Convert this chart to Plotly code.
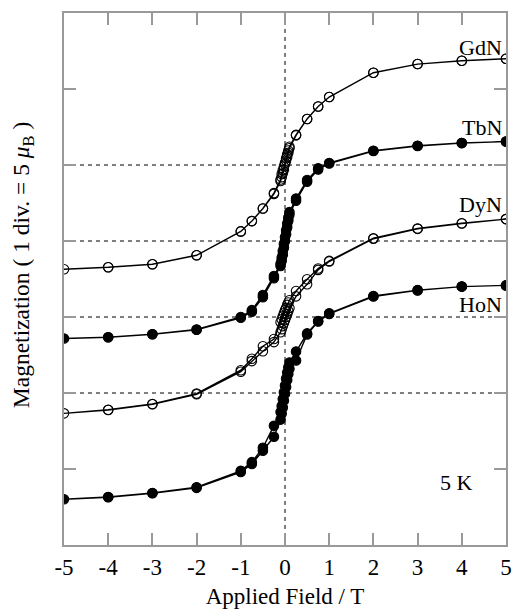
import plotly.graph_objects as go

# ---------------- data ----------------
# Field sweep: descending branch (+5 T -> -5 T), then ascending branch (-5 T -> +5 T)
FIELD_DOWN = [5, 4, 3, 2, 1, 0.75, 0.5, 0.25, 0.1, 0.075, 0.05, 0.025, 0,
              -0.025, -0.05, -0.075, -0.1, -0.25, -0.5, -0.75, -1, -2, -3, -4, -5]
FIELD_UP = [-4, -3, -2, -1, -0.75, -0.5, -0.25, -0.1, -0.075, -0.05, -0.025, 0,
            0.025, 0.05, 0.075, 0.1, 0.25, 0.5, 0.75, 1, 2, 3, 4, 5]

COMPOUNDS = ["GdN", "TbN", "DyN", "HoN"]
OFFSETS = [25, 20, 15, 10]  # vertical offset of each curve (muB)

GDN_DOWN = [6.99, 6.86, 6.64, 6.07, 4.47, 3.85, 3.03, 1.98, 1.2, 0.95, 0.7, 0.45, 0.15,
            -0.1, -0.35, -0.6, -0.95, -1.85, -2.86, -3.69, -4.37, -5.94, -6.53, -6.73, -6.86]
GDN_UP = [-6.73, -6.53, -5.94, -4.37, -3.69, -2.86, -1.9, -1.05, -0.8, -0.55, -0.3, 0.05,
          0.3, 0.55, 0.8, 1.1, 1.95, 3.03, 3.85, 4.47, 6.07, 6.64, 6.86, 6.99]

TBN_DOWN = [6.54, 6.45, 6.27, 5.94, 5.13, 4.78, 4.01, 2.79, 1.9, 1.55, 1.15, 0.7, 0.25,
            -0.2, -0.65, -1.1, -1.5, -2.3, -3.55, -4.55, -5.0, -5.82, -6.13, -6.33, -6.41]
TBN_UP = [-6.33, -6.13, -5.84, -5.05, -4.65, -3.7, -2.45, -1.64, -1.3, -0.9, -0.45, 0.0,
          0.45, 0.9, 1.35, 1.75, 2.65, 3.9, 4.7, 5.1, 5.92, 6.25, 6.44, 6.54]

DYN_DOWN = [6.44, 6.17, 5.82, 5.18, 3.69, 3.19, 2.48, 1.71, 1.1, 0.95, 0.8, 0.6, 0.45,
            0.25, 0.05, -0.15, -0.35, -1.45, -1.92, -2.75, -3.5, -5.04, -5.72, -6.1, -6.34]
DYN_UP = [-6.12, -5.74, -5.08, -3.6, -2.9, -2.25, -1.65, -1.0, -0.8, -0.6, -0.4, -0.2,
          0.0, 0.2, 0.4, 0.6, 1.36, 2.15, 3.1, 3.65, 5.15, 5.8, 6.15, 6.44]

HON_DOWN = [7.08, 7.0, 6.77, 6.38, 5.24, 4.73, 3.92, 2.73, 2.0, 1.7, 1.35, 0.95, 0.5,
            0.05, -0.4, -0.85, -1.25, -2.15, -3.6, -4.55, -5.12, -6.2, -6.58, -6.84, -6.99]
HON_UP = [-6.86, -6.6, -6.24, -5.2, -4.67, -3.8, -2.88, -1.75, -1.35, -0.95, -0.5, -0.05,
          0.4, 0.85, 1.25, 1.6, 2.14, 3.85, 4.7, 5.2, 6.35, 6.75, 7.0, 7.08]

X_TICKS = [-5, -4, -3, -2, -1, 0, 1, 2, 3, 4, 5]
X_TICK_LABELS = ["-5", "-4", "-3", "-2", "-1", "0", "1", "2", "3", "4", "5"]
TEMPERATURE_LABEL = "5 K"
Y_TITLE = "Magnetization ( 1 div. = 5 <i>μ</i><sub>B</sub> )"
X_TITLE = "Applied Field / T"

# ---------------- figure ----------------
FONT = "Liberation Serif, Times New Roman, serif"
series = [(GDN_DOWN, GDN_UP, "circle-open"),
          (TBN_DOWN, TBN_UP, "circle"),
          (DYN_DOWN, DYN_UP, "circle-open"),
          (HON_DOWN, HON_UP, "circle")]

fig = go.Figure()
for name, off, (mdown, mup, sym) in zip(COMPOUNDS, OFFSETS, series):
    x = FIELD_DOWN + FIELD_UP
    y = [m + off for m in mdown + mup]
    fig.add_trace(go.Scatter(
        x=x, y=y, mode="lines+markers", name=name,
        line=dict(color="black", width=1.4),
        marker=dict(symbol=sym, size=9.5, color="black",
                    line=dict(color="black", width=1.1)),
        showlegend=False))

shapes = []
for off in OFFSETS:
    shapes.append(dict(type="line", xref="x", yref="y", x0=-5, x1=5, y0=off, y1=off,
                       line=dict(color="black", width=1, dash="4px,4px"), layer="below"))
shapes.append(dict(type="line", xref="x", yref="paper", x0=0, x1=0, y0=0, y1=1,
                   line=dict(color="black", width=1, dash="4px,4px"), layer="below"))

label_y = [32.7, 27.48, 22.37, 15.79]
annotations = []
for name, ly in zip(COMPOUNDS, label_y):
    annotations.append(dict(text=name, xref="paper", yref="y", x=1, y=ly,
                            xanchor="right", yanchor="middle", xshift=-2,
                            showarrow=False, font=dict(family=FONT, size=22, color="black")))
annotations.append(dict(text=TEMPERATURE_LABEL, xref="x", yref="y", x=3.87, y=4.08,
                        xanchor="center", yanchor="middle", showarrow=False,
                        font=dict(family=FONT, size=22, color="black")))
annotations.append(dict(text=Y_TITLE, xref="paper", yref="paper", x=-0.0928, y=0.526,
                        xanchor="center", yanchor="middle", textangle=-90, showarrow=False,
                        font=dict(family=FONT, size=23.5, color="black")))

axis_common = dict(showgrid=False, zeroline=False, showline=True, linecolor="#999999",
                   linewidth=1.5, mirror="ticks", ticks="inside", ticklen=12,
                   tickcolor="#999999", tickwidth=1.5)

fig.update_layout(
    width=514, height=609,
    margin=dict(l=64, r=8, t=13, b=64, autoexpand=False),
    paper_bgcolor="white", plot_bgcolor="white",
    font=dict(family=FONT, size=23, color="black"),
    shapes=shapes, annotations=annotations,
    xaxis=dict(range=[-5, 5], tickvals=X_TICKS, ticktext=X_TICK_LABELS,
               ticklabelstandoff=1,
               title=dict(text=X_TITLE, standoff=12,
                          font=dict(family=FONT, size=23)),
               tickfont=dict(family=FONT, size=23), **axis_common),
    yaxis=dict(range=[0, 35], tickvals=[0, 5, 10, 15, 20, 25, 30, 35],
               showticklabels=False, **axis_common),
)

fig.write_html("out.html", config={"displayModeBar": False},
               post_script="document.body.style.margin='0';document.body.style.overflow='hidden';")
